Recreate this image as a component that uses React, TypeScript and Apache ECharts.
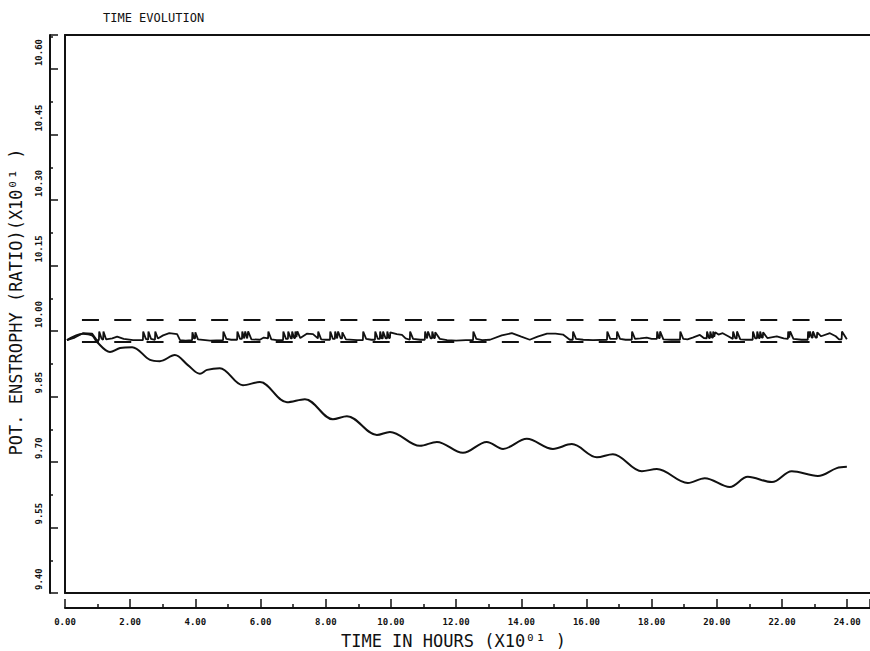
import React, { useEffect, useRef } from "react";
import * as echarts from "echarts";

// ---- data ----
const Y_BASE = 9.4; // bottom of the value axis
const X_MAX = 24.7;
const Y_SPAN = 1.278; // 9.40 .. 10.678

const titleText = "TIME EVOLUTION";
const xName = "TIME IN HOURS (X10⁰¹ )";
const yName = "POT. ENSTROPHY (RATIO)(X10⁰¹ )";

// descending curve
const decayCurve: [number, number][] = [
  [0.06, 9.979], [0.55, 9.994], [0.83, 9.99], [0.98, 9.975], [1.38, 9.952], [1.69, 9.961],
  [2.06, 9.963], [2.61, 9.934], [2.91, 9.931], [3.37, 9.945], [3.77, 9.922], [4.14, 9.902],
  [4.36, 9.911], [4.75, 9.915], [5.46, 9.876], [5.98, 9.883], [6.81, 9.837], [7.36, 9.844],
  [8.22, 9.798], [8.65, 9.805], [9.57, 9.762], [9.97, 9.769], [10.89, 9.737], [11.41, 9.746],
  [12.21, 9.721], [12.94, 9.746], [13.44, 9.73], [14.17, 9.753], [14.97, 9.73], [15.55, 9.741],
  [16.32, 9.711], [16.81, 9.718], [17.7, 9.679], [18.16, 9.684], [19.11, 9.652], [19.63, 9.663],
  [20.4, 9.643], [20.95, 9.666], [21.69, 9.654], [22.3, 9.679], [23.1, 9.668], [23.68, 9.686],
  [23.99, 9.689],
];

// near-constant curve with spikes
const spikyCurve: [number, number][] = [
  [0.06, 9.979], [0.3, 9.985], [0.55, 9.995], [0.83, 9.994], [0.98, 9.979],
  [1.04, 9.979], [1.05, 9.999], [1.12, 9.983], [1.17, 9.98], [1.18, 9.999], [1.26, 9.981],
  [1.45, 9.983], [1.6, 9.987], [1.8, 9.982], [2.09, 9.979],
  [2.39, 9.979], [2.4, 9.999], [2.48, 9.982], [2.55, 9.98], [2.56, 9.999], [2.64, 9.982],
  [2.76, 9.98], [2.77, 9.999], [2.85, 9.983],
  [3.01, 9.99], [3.2, 9.995], [3.44, 9.993], [3.53, 9.979], [3.7, 9.978],
  [3.9, 9.979], [3.91, 9.997], [3.96, 9.983], [3.99, 9.983], [4.0, 9.997], [4.08, 9.981],
  [4.45, 9.978],
  [4.85, 9.979], [4.86, 9.999], [4.95, 9.982], [5.1, 9.98],
  [5.28, 9.98], [5.29, 9.999], [5.37, 9.982], [5.43, 9.982], [5.44, 9.999], [5.5, 9.983],
  [5.52, 9.983], [5.53, 9.999], [5.59, 9.983], [5.61, 9.983], [5.62, 9.999], [5.72, 9.981],
  [5.98, 9.98], [6.1, 9.985],
  [6.23, 9.983], [6.24, 9.999], [6.33, 9.981], [6.5, 9.979],
  [6.69, 9.979], [6.7, 9.999], [6.78, 9.982], [6.84, 9.982], [6.85, 9.999], [6.93, 9.983],
  [6.96, 9.983], [6.97, 9.999], [7.03, 9.984], [7.06, 9.984], [7.07, 9.999], [7.1, 9.986],
  [7.12, 9.986], [7.13, 9.999], [7.22, 9.984],
  [7.42, 9.994], [7.61, 9.993],
  [7.76, 9.983], [7.77, 9.999], [7.86, 9.981], [8.0, 9.98],
  [8.13, 9.98], [8.14, 9.999], [8.22, 9.982], [8.28, 9.982], [8.29, 9.999], [8.35, 9.983],
  [8.37, 9.983], [8.38, 9.999], [8.46, 9.983], [8.5, 9.983], [8.51, 9.997], [8.62, 9.981],
  [8.96, 9.979],
  [9.14, 9.979], [9.15, 9.999], [9.24, 9.982], [9.4, 9.98],
  [9.51, 9.98], [9.52, 9.999], [9.6, 9.982], [9.66, 9.982], [9.67, 9.999], [9.72, 9.983],
  [9.75, 9.983], [9.76, 9.999], [9.84, 9.983], [9.88, 9.983], [9.89, 9.999], [9.94, 9.984],
  [9.97, 9.984], [9.98, 9.997],
  [10.18, 9.993], [10.34, 9.991], [10.45, 9.983],
  [10.58, 9.98], [10.59, 9.999], [10.68, 9.982], [10.9, 9.98],
  [11.04, 9.98], [11.05, 9.999], [11.11, 9.983], [11.13, 9.983], [11.14, 9.999], [11.22, 9.983],
  [11.26, 9.983], [11.27, 9.999], [11.32, 9.984], [11.35, 9.984], [11.36, 9.997], [11.5, 9.982],
  [11.72, 9.979], [12.0, 9.978], [12.3, 9.979],
  [12.52, 9.979], [12.53, 9.999], [12.62, 9.982], [12.8, 9.979], [13.04, 9.98],
  [13.4, 9.99], [13.71, 9.995], [14.0, 9.987], [14.26, 9.98], [14.5, 9.987], [14.79, 9.994],
  [15.05, 9.994], [15.28, 9.992], [15.49, 9.98],
  [15.58, 9.98], [15.59, 9.999], [15.68, 9.982], [15.9, 9.98], [16.2, 9.979],
  [16.63, 9.98], [16.64, 9.999], [16.73, 9.982],
  [16.93, 9.982], [16.94, 9.999], [17.03, 9.982], [17.2, 9.98],
  [17.39, 9.98], [17.4, 9.999], [17.49, 9.982],
  [17.65, 9.983], [17.85, 9.985], [18.0, 9.982],
  [18.16, 9.982], [18.17, 9.999], [18.22, 9.984], [18.25, 9.984], [18.26, 9.999], [18.36, 9.981],
  [18.6, 9.98],
  [18.87, 9.98], [18.88, 9.999], [18.97, 9.982],
  [19.1, 9.981], [19.26, 9.985], [19.48, 9.991], [19.6, 9.984],
  [19.69, 9.983], [19.7, 9.999], [19.76, 9.984], [19.79, 9.984], [19.8, 9.999], [19.85, 9.985],
  [19.88, 9.985], [19.89, 9.999], [19.92, 9.987], [19.94, 9.987], [19.95, 9.997], [20.05, 9.992],
  [20.18, 9.995], [20.35, 9.988],
  [20.49, 9.982], [20.5, 9.999], [20.57, 9.983], [20.61, 9.983], [20.62, 9.999], [20.72, 9.981],
  [20.9, 9.98],
  [21.1, 9.98], [21.11, 9.999], [21.18, 9.983], [21.23, 9.983], [21.24, 9.999], [21.29, 9.984],
  [21.32, 9.984], [21.33, 9.999], [21.38, 9.985], [21.41, 9.985], [21.42, 9.997], [21.55, 9.984],
  [21.84, 9.988], [22.05, 9.983],
  [22.18, 9.982], [22.19, 9.999], [22.22, 9.985], [22.24, 9.985], [22.25, 9.999], [22.35, 9.982],
  [22.6, 9.98],
  [22.79, 9.98], [22.8, 9.999], [22.83, 9.985], [22.85, 9.985], [22.86, 9.999], [22.91, 9.985],
  [22.94, 9.985], [22.95, 9.999], [23.03, 9.985], [23.07, 9.985], [23.08, 9.997], [23.2, 9.988],
  [23.47, 9.995], [23.65, 9.988], [23.75, 9.981],
  [23.83, 9.981], [23.84, 9.999], [23.99, 9.981],
];

// dashed reference lines
const upperBound: [number, number][] = [[0.52, 10.025], [23.99, 10.025]];
const lowerBound: [number, number][] = [[0.52, 9.975], [23.99, 9.975]];

const INK = "#111";
const MONO = "'DejaVu Sans Mono', 'Liberation Mono', monospace";

const shift = (pts: [number, number][]) => pts.map(([t, v]) => [t, v - Y_BASE]);

export default function App() {
  const ref = useRef<HTMLDivElement>(null);

  useEffect(() => {
    if (!ref.current) return;
    const chart = echarts.init(ref.current, undefined, { renderer: "svg" });

    const tickLabel = {
      fontFamily: MONO,
      fontWeight: "bold" as const,
      fontSize: 9,
      color: INK,
    };
    const lineOnlyX = (position: "top" | "bottom") => ({
      type: "value" as const,
      position,
      min: 0,
      max: X_MAX,
      axisLine: { show: true, onZero: false, lineStyle: { color: INK, width: 2 } },
      axisTick: { show: false },
      axisLabel: { show: false },
      splitLine: { show: false },
    });

    chart.setOption({
      animation: false,
      backgroundColor: "#fff",
      title: {
        text: titleText,
        left: 98,
        top: 7,
        textStyle: { fontFamily: MONO, fontSize: 12, fontWeight: "normal", color: INK },
      },
      grid: { left: 65, right: 0, top: 35, bottom: 58, containLabel: false, outerBoundsMode: "none" },
      xAxis: [
        {
          type: "value",
          position: "bottom",
          offset: 15,
          min: 0,
          max: X_MAX,
          interval: 2,
          axisLine: { show: true, onZero: false, lineStyle: { color: INK, width: 2 } },
          axisTick: { show: true, inside: true, length: 9, lineStyle: { color: INK, width: 1.5 } },
          minorTick: { show: true, splitNumber: 2, length: 4, lineStyle: { color: INK, width: 1.5 } },
          axisLabel: {
            ...tickLabel,
            margin: 9,
            showMaxLabel: false,
            formatter: (v: number) => v.toFixed(2),
          },
          splitLine: { show: false },
          minorSplitLine: { show: false },
          name: xName,
          nameLocation: "middle",
          nameGap: 24,
          nameTextStyle: {
            fontFamily: MONO,
            fontSize: 17,
            color: INK,
            padding: [0, 28, 0, 0],
          },
        },
        lineOnlyX("bottom"),
        lineOnlyX("top"),
      ],
      yAxis: [
        {
          type: "value",
          position: "left",
          offset: 15,
          min: 0,
          max: Y_SPAN,
          interval: 0.15,
          axisLine: { show: true, onZero: false, lineStyle: { color: INK, width: 2 } },
          axisTick: { show: true, inside: true, length: 8, lineStyle: { color: INK, width: 1.5 } },
          minorTick: { show: true, splitNumber: 2, length: 3, lineStyle: { color: INK, width: 1.5 } },
          axisLabel: {
            ...tickLabel,
            rotate: 90,
            align: "left",
            verticalAlign: "middle",
            padding: [0, 0, 0, 3],
            margin: 11,
            showMaxLabel: false,
            formatter: (v: number) => (v + Y_BASE).toFixed(2),
          },
          splitLine: { show: false },
          minorSplitLine: { show: false },
          name: yName,
          nameLocation: "middle",
          nameGap: 26,
          nameTextStyle: {
            fontFamily: MONO,
            fontSize: 17,
            color: INK,
            padding: [0, 0, 0, 24],
          },
        },
        {
          type: "value",
          position: "left",
          min: 0,
          max: Y_SPAN,
          axisLine: { show: true, onZero: false, lineStyle: { color: INK, width: 2 } },
          axisTick: { show: false },
          axisLabel: { show: false },
          splitLine: { show: false },
        },
      ],
      series: [
        {
          type: "line",
          data: shift(upperBound),
          showSymbol: false,
          lineStyle: { color: INK, width: 2, type: [17, 15.3] },
          silent: true,
        },
        {
          type: "line",
          data: shift(lowerBound),
          showSymbol: false,
          lineStyle: { color: INK, width: 2, type: [17, 15.3] },
          silent: true,
        },
        {
          type: "line",
          data: shift(spikyCurve),
          showSymbol: false,
          lineStyle: { color: INK, width: 1.8 },
          silent: true,
        },
        {
          type: "line",
          data: shift(decayCurve),
          showSymbol: false,
          smooth: 0.35,
          lineStyle: { color: INK, width: 2 },
          silent: true,
        },
      ],
    });

    return () => chart.dispose();
  }, []);

  return (
    <div
      ref={ref}
      style={{ position: "fixed", left: 0, top: 0, width: 870, height: 651, background: "#fff" }}
    />
  );
}
